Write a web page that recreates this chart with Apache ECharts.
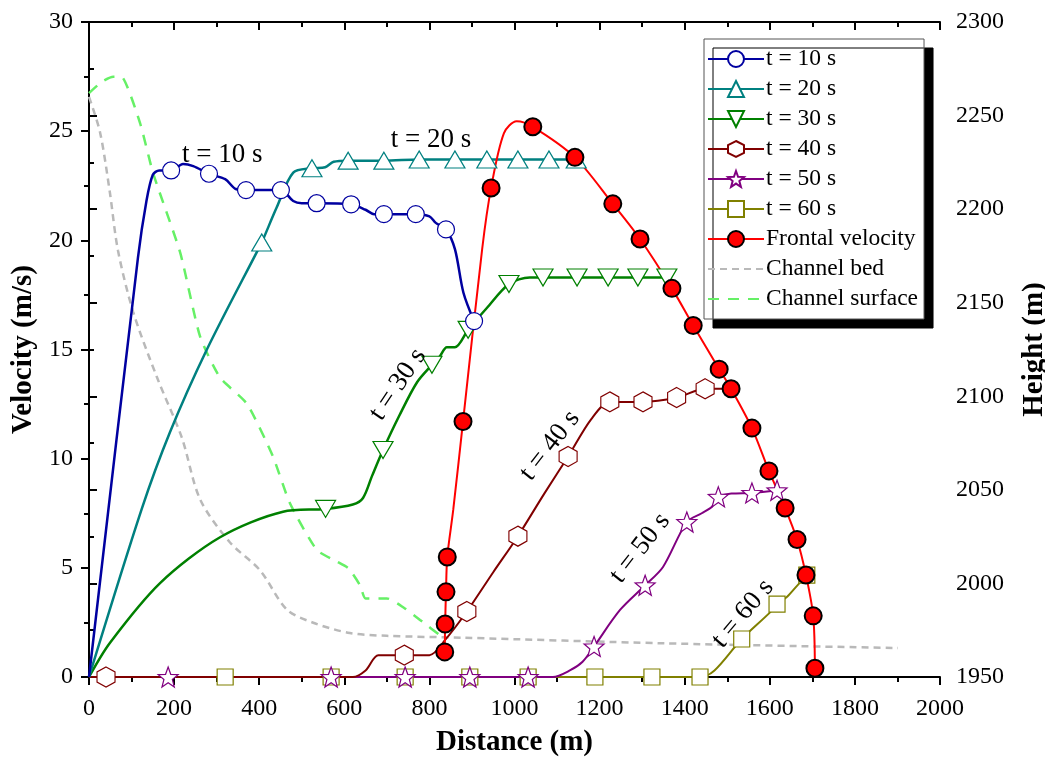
<!DOCTYPE html>
<html>
<head>
<meta charset="utf-8">
<script src="https://cdn.jsdelivr.net/npm/echarts@6/dist/echarts.min.js"></script>
<style>
  html, body { margin: 0; padding: 0; background: #fff; }
  #chart { width: 1045px; height: 757px; }
</style>
</head>
<body>
<div id="chart"></div>
<script>
// curve shape points (no marker) and marker points, [distance m, velocity m/s]
const t10Line = [[0, 0], [115, 19.2], [135, 21.8], [150, 23.0], [165, 23.2], [221, 23.5], [245, 23.4], [320, 22.8], [345, 22.35], [480, 21.8], [500, 21.7], [650, 21.4], [670, 21.2], [800, 21.1], [815, 20.8], [860, 19.6], [880, 17.6]];
const t10Marks = [[193, 23.2], [282, 23.05], [369, 22.3], [451, 22.3], [535, 21.7], [616, 21.65], [693, 21.2], [768, 21.2], [839, 20.5], [905, 16.3]];

const t20Line = [[0, 0], [124, 7.7], [190, 11.2], [277, 15], [398, 19.6], [441, 21.5], [480, 23.1], [555, 23.35], [575, 23.6]];
const t20Marks = [[406, 19.9], [524, 23.3], [609, 23.65], [693, 23.65], [776, 23.7], [860, 23.7], [935, 23.7], [1008, 23.7], [1081, 23.7], [1145, 23.7]];

const t30Line = [[0, 0], [49, 1.56], [167, 4.3], [308, 6.4], [456, 7.57], [620, 7.9], [644, 8.2], [665, 9.2], [730, 12.0], [771, 13.5], [825, 14.7], [841, 15.1], [860, 15.1], [935, 16.9], [1036, 18.3]];
const t30Marks = [[556, 7.7], [691, 10.4], [806, 14.3], [891, 15.9], [987, 18.0], [1067, 18.3], [1147, 18.3], [1220, 18.3], [1290, 18.3], [1358, 18.3]];

const t40Line = [[0, 0], [620, 0], [650, 0.3], [680, 1.0], [800, 1.0], [837, 1.7], [950, 4.8], [1070, 8.4], [1180, 11.8], [1506, 13.2]];
const t40Marks = [[40, 0], [741, 1.0], [888, 3.0], [1008, 6.45], [1126, 10.1], [1224, 12.6], [1302, 12.6], [1381, 12.8], [1448, 13.2]];

const t50Line = [[0, 0], [1090, 0], [1130, 0.3], [1160, 0.7], [1248, 3.07], [1349, 5.04], [1440, 7.5], [1464, 7.8], [1510, 8.4], [1630, 8.6]];
const t50Marks = [[186, 0], [569, 0], [743, 0], [895, 0], [1032, 0], [1187, 1.4], [1307, 4.2], [1405, 7.1], [1479, 8.25], [1558, 8.43], [1617, 8.55]];

const t60Line = [[0, 0], [1470, 0.3], [1600, 2.95], [1640, 3.66], [1665, 4.2]];
const t60Marks = [[320, 0], [569, 0], [743, 0], [895, 0], [1032, 0], [1189, 0], [1323, 0], [1436, 0], [1534, 1.74], [1617, 3.34], [1687, 4.67]];

const frontLine = [[856, 7.65], [924, 19.6], [975, 24.9], [1005, 25.45]];
const frontMarks = [[836, 1.15], [837, 2.43], [839, 3.9], [842, 5.5], [879, 11.7], [945, 22.4], [1043, 25.2], [1142, 23.8], [1231, 21.67], [1295, 20.06], [1370, 17.8], [1420, 16.1], [1481, 14.1], [1509, 13.2], [1558, 11.4], [1598, 9.44], [1636, 7.74], [1664, 6.3], [1685, 4.67], [1702, 2.8], [1706, 0.4]];

// [distance m, height m] on the right axis
const channelBed = [[0, 2260], [26, 2241], [49, 2209], [68, 2178], [104, 2145], [160, 2110], [218, 2078], [261, 2045], [331, 2022], [402, 2007], [465, 1986], [527, 1979], [613, 1973.5], [700, 1972], [879, 1971], [1350, 1968], [1901, 1965.5]];
const channelSurface = [[0, 2262], [30, 2268], [57, 2270.7], [80, 2270], [120, 2246], [151, 2219], [214, 2177], [261, 2132], [308, 2110], [371, 2096], [432, 2068], [472, 2043], [535, 2018], [580, 2012], [610, 2008], [637, 1999], [650, 1992], [700, 1992], [740, 1987], [778, 1980.5], [832, 1971]];

const xTicks = { min: 0, max: 2000, step: 200 };
const vTicks = { min: 0, max: 30, step: 5 };
const hTicks = { min: 1950, max: 2300, step: 50 };

// annotation labels: text, distance, velocity, rotation (deg)
const curveLabels = [
  ['t = 10 s', 313, 23.9, 0],
  ['t = 20 s', 804, 24.6, 0],
  ['t = 30 s', 726, 13.4, 56],
  ['t = 40 s', 1083, 10.6, 52],
  ['t = 50 s', 1295, 5.9, 52],
  ['t = 60 s', 1537, 2.9, 50]
];

const FONT = 'Liberation Serif';
const HEX = 'path://M0,-10 L8.66,-5 L8.66,5 L0,10 L-8.66,5 L-8.66,-5 Z';
const STAR = 'path://M0,-10 L2.469,-3.398 L9.511,-3.09 L3.995,1.298 L5.878,8.09 L0,4.2 L-5.878,8.09 L-3.995,1.298 L-9.511,-3.09 L-2.469,-3.398 Z';
const DOWN = 'path://M-10,-8 L10,-8 L0,9 Z';

function merge(line, marks) {
  const pts = line.map(p => ({ value: p, symbol: 'none' }))
    .concat(marks.map(p => ({ value: p })));
  pts.sort((a, b) => a.value[0] - b.value[0]);
  return pts;
}

function timeSeries(name, color, line, marks, symbol, size, width) {
  return {
    name: name, type: 'line', data: merge(line, marks),
    smooth: 0.3, clip: false,
    symbol: symbol, symbolSize: size, showSymbol: true,
    lineStyle: { color: color, width: width || 2 },
    itemStyle: { color: '#fff', borderColor: color, borderWidth: 1.2 },
    emphasis: { disabled: true }
  };
}

const series = [
  {
    name: 'Channel bed', type: 'line', yAxisIndex: 1, data: channelBed, smooth: 0.3,
    symbol: 'none', itemStyle: { color: 'rgba(0,0,0,0)', borderWidth: 0 },
    lineStyle: { color: '#b9b9b9', width: 2.5, type: [7, 5] }, emphasis: { disabled: true }
  },
  {
    name: 'Channel surface', type: 'line', yAxisIndex: 1, data: channelSurface, smooth: 0.2,
    symbol: 'none', itemStyle: { color: 'rgba(0,0,0,0)', borderWidth: 0 },
    lineStyle: { color: '#66f066', width: 2.5, type: [11, 9] }, emphasis: { disabled: true }
  },
  timeSeries('t = 60 s', '#808000', t60Line, t60Marks, 'rect', 16),
  timeSeries('t = 50 s', '#800080', t50Line, t50Marks, STAR, 20),
  timeSeries('t = 40 s', '#800000', t40Line, t40Marks, HEX, [18, 20]),
  timeSeries('t = 30 s', '#008000', t30Line, t30Marks, DOWN, [20, 17], 2.5),
  timeSeries('t = 20 s', '#008080', t20Line, t20Marks, 'triangle', [20, 17], 2.5),
  timeSeries('t = 10 s', '#0000a0', t10Line, t10Marks, 'circle', 17, 2.5),
  {
    name: 'Frontal velocity', type: 'line', data: merge(frontLine, frontMarks),
    smooth: 0.3, clip: false, symbol: 'circle', symbolSize: 17,
    lineStyle: { color: '#ff0000', width: 2 },
    itemStyle: { color: '#ff0000', borderColor: '#000', borderWidth: 2 },
    emphasis: { disabled: true }
  }
];

const axisLine = { show: true, lineStyle: { color: '#000', width: 2 } };
const tick = { show: true, inside: false, length: 8, lineStyle: { width: 2, color: '#000' } };
const minor = { show: true, splitNumber: 2, length: 5, lineStyle: { width: 2, color: '#000' } };
const label = { color: '#000', fontFamily: FONT, fontSize: 24, margin: 16, formatter: v => String(v) };
const nameStyle = { color: '#000', fontFamily: FONT, fontSize: 29, fontWeight: 'bold' };

const chart = echarts.init(document.getElementById('chart'));
chart.setOption({
  animation: false,
  backgroundColor: '#fff',
  grid: { left: 89, right: 105, top: 22, bottom: 80, containLabel: false, outerBoundsMode: 'none' },
  legend: {
    orient: 'vertical', left: 704, top: 39,
    padding: [8, 6, 8, 3],
    itemWidth: 56, itemHeight: 20, itemGap: 6,
    backgroundColor: '#fff', borderColor: '#555', borderWidth: 1,
    shadowColor: '#000', shadowBlur: 0, shadowOffsetX: 9, shadowOffsetY: 9,
    textStyle: { color: '#000', fontFamily: FONT, fontSize: 23.5, padding: [0, 0, 0, -3] },
    data: ['t = 10 s', 't = 20 s', 't = 30 s', 't = 40 s', 't = 50 s', 't = 60 s', 'Frontal velocity', 'Channel bed', 'Channel surface']
  },
  xAxis: [
    {
      type: 'value', position: 'bottom', min: xTicks.min, max: xTicks.max, interval: xTicks.step,
      axisLine: axisLine, splitLine: { show: false }, axisTick: tick, minorTick: minor,
      axisLabel: Object.assign({}, label, { margin: 20 }),
      name: 'Distance (m)', nameLocation: 'middle', nameGap: 51, nameTextStyle: nameStyle
    },
    {
      type: 'value', position: 'top', min: xTicks.min, max: xTicks.max, interval: xTicks.step,
      axisLine: axisLine, splitLine: { show: false }, axisLabel: { show: false },
      axisTick: Object.assign({}, tick, { inside: true }),
      minorTick: minor
    }
  ],
  yAxis: [
    {
      type: 'value', position: 'left', min: vTicks.min, max: vTicks.max, interval: vTicks.step,
      axisLine: axisLine, splitLine: { show: false }, axisTick: tick, minorTick: minor,
      axisLabel: label,
      name: 'Velocity (m/s)', nameLocation: 'middle', nameGap: 39, nameTextStyle: nameStyle
    },
    {
      type: 'value', position: 'right', min: hTicks.min, max: hTicks.max, interval: hTicks.step,
      axisLine: axisLine, splitLine: { show: false }, axisTick: tick, minorTick: minor,
      axisLabel: label,
      name: 'Height (m)', nameLocation: 'middle', nameGap: 80, nameTextStyle: nameStyle
    }
  ],
  series: series
});

// curve annotations, placed from data coordinates
chart.setOption({
  graphic: curveLabels.map(([text, x, y, rot]) => {
    const p = chart.convertToPixel({ xAxisIndex: 0, yAxisIndex: 0 }, [x, y]);
    return {
      type: 'text', x: p[0], y: p[1], rotation: rot * Math.PI / 180, z: 100,
      style: { text: text, fill: '#000', font: '27px "' + FONT + '"', align: 'center', verticalAlign: 'middle' }
    };
  })
});
</script>
</body>
</html>
